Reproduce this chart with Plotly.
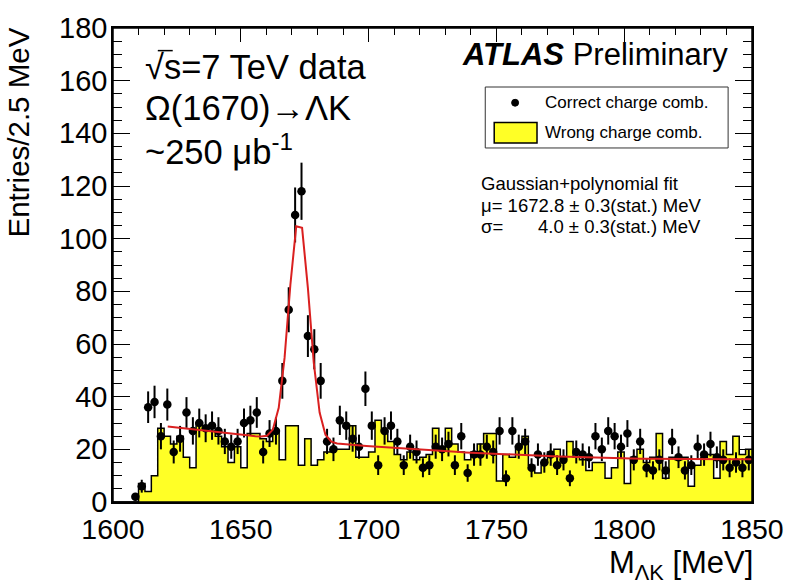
import numpy as np
import plotly.graph_objects as go

# Binning of the Lambda-K invariant mass histogram: 100 bins of 2.5 MeV
mass_low = 1600.0
bin_width = 2.5
n_bins = 100

# Entries per bin, correct (opposite) charge combinations
correct_charge = [
    0, 0, 0, 2, 6, 36, 38, 25, 37, 19,
    24, 34, 27, 30, 28, 29, 27, 23, 21, 23,
    30, 31, 34, 19, 26, 27, 46, 73, 109, 118,
    63, 58, 46, 23, 20, 31, 29, 24, 21, 43,
    29, 14, 27, 29, 23, 14, 21, 19, 13, 14,
    21, 20, 22, 14, 25, 11, 18, 18, 21, 19,
    27, 9, 27, 21, 23, 13, 18, 15, 18, 14,
    16, 9, 19, 18, 17, 25, 20, 27, 25, 21,
    26, 16, 23, 13, 12, 16, 12, 23, 17, 12,
    14, 21, 18, 22, 17, 16, 13, 15, 13, 16,
]

# Entries per bin, wrong (same) charge combinations
wrong_charge = [
    0, 0, 0, 0, 7, 4, 10, 28, 25, 22,
    25, 17, 13, 30, 29, 27, 25, 21, 15, 21,
    13, 26, 26, 24, 23, 27, 16, 29, 29, 14,
    24, 14, 16, 19, 20, 20, 20, 29, 17, 17,
    19, 31, 27, 23, 18, 16, 19, 16, 17, 18,
    28, 20, 28, 22, 19, 16, 19, 22, 26, 26,
    8, 18, 17, 21, 25, 14, 11, 15, 19, 20,
    17, 23, 17, 16, 12, 15, 15, 9, 13, 19,
    7, 17, 20, 15, 17, 26, 9, 17, 16, 17,
    6, 14, 17, 18, 9, 23, 18, 25, 18, 20,
]

# Gaussian + second-order polynomial fit (polynomial in M - 1700 MeV)
fit_mu = 1672.8
fit_sigma = 4.0
fit_amplitude = 84.4
fit_poly = [21.23, -0.07316, 2.668e-4]
fit_range = (1621.4, 1850.0)
fit_npx = 100

edges = mass_low + bin_width * np.arange(n_bins + 1)
centers = edges[:-1] + 0.5 * bin_width

counts = np.array(correct_charge, dtype=float)
filled = counts > 0

fit_x = np.linspace(fit_range[0], fit_range[1], fit_npx + 1)
t = fit_x - 1700.0
fit_y = (fit_amplitude * np.exp(-0.5 * ((fit_x - fit_mu) / fit_sigma) ** 2)
         + fit_poly[0] + fit_poly[1] * t + fit_poly[2] * t ** 2)

YELLOW = "#FFFF26"
FONT = "Liberation Sans, Arial, Helvetica, sans-serif"

fig = go.Figure()

# Wrong-charge histogram: filled step outline
fig.add_trace(go.Scatter(
    x=edges, y=list(wrong_charge) + [wrong_charge[-1]],
    mode="lines", line=dict(shape="hv", color="black", width=1.5),
    fill="tozeroy", fillcolor=YELLOW, hoverinfo="skip", showlegend=False,
))

# Correct-charge data points with Poisson errors
fig.add_trace(go.Scatter(
    x=centers[filled], y=counts[filled], mode="markers",
    marker=dict(color="black", size=8.5),
    error_y=dict(type="data", array=np.sqrt(counts[filled]),
                 color="black", thickness=2, width=0),
    showlegend=False,
))

# Fit curve
fig.add_trace(go.Scatter(
    x=fit_x, y=fit_y, mode="lines",
    line=dict(color="#DA2020", width=2), showlegend=False,
))

# Plot-area geometry in pixels, used to place the text boxes
L, R, T, B = 113, 755, 20, 502
W, H = R - L, B - T


def xp(px):
    return (px - L) / W


def yp(py):
    return (B - py) / H


fig.update_layout(
    width=796, height=587,
    margin=dict(l=L, r=796 - R, t=T, b=587 - B),
    paper_bgcolor="white", plot_bgcolor="white",
    font=dict(family=FONT, color="black"),
    xaxis=dict(
        range=[1600, 1850], tickmode="linear", tick0=1600, dtick=50,
        ticks="inside", ticklen=14, tickwidth=1, tickcolor="black",
        showline=True, linecolor="black", linewidth=1.5, mirror="ticks",
        minor=dict(tickmode="linear", tick0=1600, dtick=10, ticks="inside",
                   ticklen=7, tickwidth=1, tickcolor="black"),
        showgrid=False, zeroline=False, layer="below traces",
        tickfont=dict(size=28.5, family=FONT, color="black"),
        ticklabelstandoff=1,
    ),
    yaxis=dict(
        range=[0, 180], tickmode="linear", tick0=0, dtick=20,
        ticks="inside", ticklen=17, tickwidth=1, tickcolor="black",
        showline=True, linecolor="black", linewidth=1.5, mirror="ticks",
        minor=dict(tickmode="linear", tick0=0, dtick=5, ticks="inside",
                   ticklen=9, tickwidth=1, tickcolor="black"),
        showgrid=False, zeroline=False, layer="below traces",
        tickfont=dict(size=29, family=FONT, color="black"),
        ticklabelstandoff=-2,
    ),
)

shapes = [
    # frame
    dict(type="rect", xref="paper", yref="paper", x0=0, x1=1, y0=0, y1=1,
         line=dict(color="black", width=1.5), layer="above"),
    # legend box
    dict(type="rect", xref="paper", yref="paper",
         x0=xp(487), x1=xp(731), y0=yp(142), y1=yp(80),
         line=dict(color="#333333", width=1), fillcolor="white", layer="above"),
    # legend marker
    dict(type="circle", xref="paper", yref="paper",
         x0=xp(513.5), x1=xp(520.5), y0=yp(99.5), y1=yp(92.5),
         line=dict(color="black", width=1), fillcolor="black", layer="above"),
    # legend fill swatch
    dict(type="rect", xref="paper", yref="paper",
         x0=xp(496), x1=xp(539), y0=yp(137), y1=yp(116),
         line=dict(color="black", width=1.5), fillcolor=YELLOW, layer="above"),
    # overbar of the square root
    dict(type="line", xref="paper", yref="paper",
         x0=xp(158), x1=xp(173), y0=yp(43), y1=yp(43),
         line=dict(color="black", width=1.5), layer="above"),
]


def label(text, x, y, size, xanchor="left", yanchor="middle", **kw):
    return dict(text=text, xref="paper", yref="paper", x=xp(x), y=yp(y),
                xanchor=xanchor, yanchor=yanchor, showarrow=False,
                font=dict(size=size, family=FONT, color="black"), **kw)


annotations = [
    label("√s=7 TeV data", 143, 60, 34.5),
    label("Ω(1670)→ΛK", 143, 101, 34.5),
    label("~250 μb<sup>-1</sup>", 143, 144, 34.5),
    label("<b><i>ATLAS</i></b> Preliminary", 462, 47, 31),
    label("Correct charge comb.", 545, 96, 17),
    label("Wrong charge comb.", 545, 126, 17),
    label("Gaussian+polynomial fit", 481, 178, 18.5),
    label("μ= 1672.8 ± 0.3(stat.) MeV", 481, 201, 18.5),
    label("σ=", 481, 222, 18.5),
    label("4.0 ± 0.3(stat.) MeV", 706, 222, 18.5, xanchor="right"),
    label("M<sub>ΛK</sub> [MeV]", 758, 566, 31, xanchor="right"),
    label("Entries/2.5 MeV", 18, 17, 29.5, xanchor="center", yanchor="top",
          textangle=-90),
]

fig.update_layout(shapes=shapes, annotations=annotations)

fig.write_html("out.html")
